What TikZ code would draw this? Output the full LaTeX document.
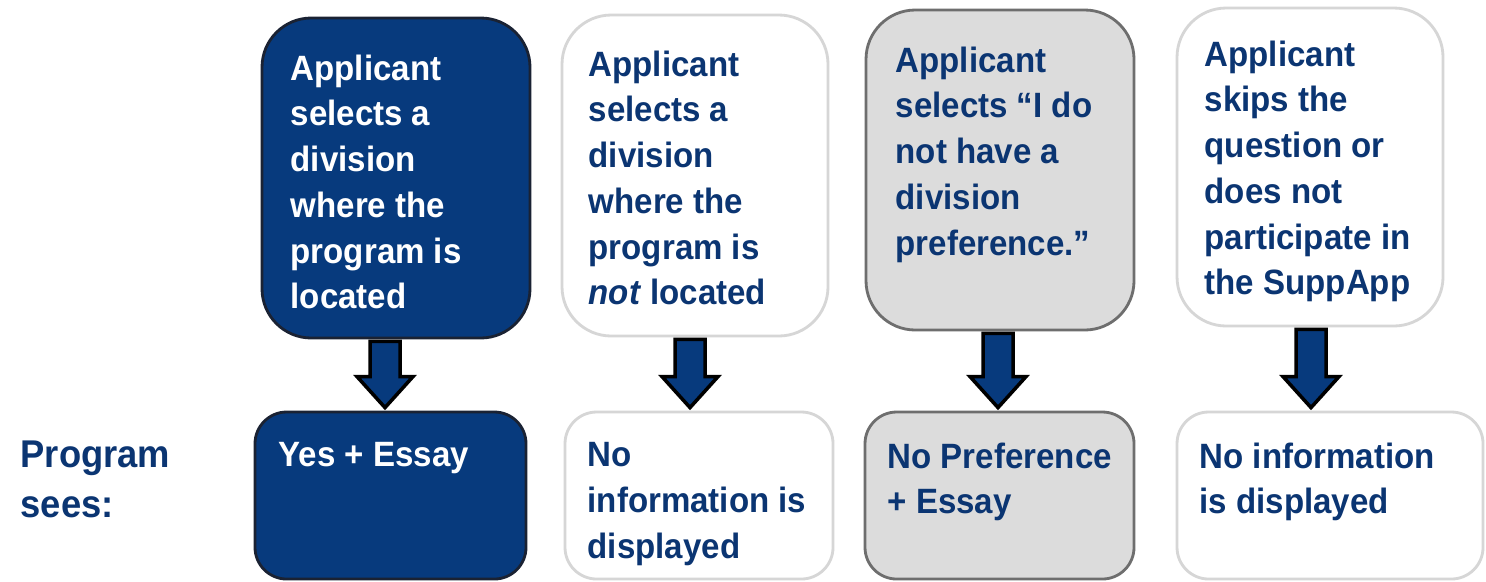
\documentclass[tikz,border=0pt]{standalone}
\usepackage{fontspec}
\setmainfont{Liberation Sans}[FakeStretch=0.94]
\usetikzlibrary{calc,fit}
\definecolor{navyfill}{HTML}{073A7D}
\definecolor{navytext}{HTML}{0B3572}
\definecolor{grayfill}{HTML}{DCDCDC}
\definecolor{grayedge}{HTML}{6E6E6E}
\definecolor{lightedge}{HTML}{D6D6D6}
\definecolor{darkedge}{HTML}{1A2233}
\tikzset{
  x=0.01cm, y=-0.01cm,
  boxbase/.style={rectangle, inner sep=0pt, line width=0.8pt},
  navybox/.style={boxbase, fill=navyfill, draw=darkedge},
  whitebox/.style={boxbase, fill=white, draw=lightedge},
  graybox/.style={boxbase, fill=grayfill, draw=grayedge},
  txt/.style={inner sep=0pt, anchor=north west, align=left,
    font=\fontsize{10}{13}\selectfont\bfseries, text=navytext},
  wtxt/.style={txt, text=white},
  barrow/.style={fill=navyfill, draw=black, line width=1pt, line join=miter}
}
\newcommand\blockarrow[3]{%
  \coordinate (ta) at ($(#1.south)+(#3,2)$);
  \coordinate (tb) at ($(#2.north)+(0,-3)$);
  \coordinate (tc) at (ta |- tb);
  \draw[barrow] ($(ta)+(-15,0)$) -- ($(tc)+(-15,-31)$) -- ($(tc)+(-28,-31)$)
    -- (tc) -- ($(tc)+(28,-31)$) -- ($(tc)+(15,-31)$) -- ($(ta)+(15,0)$) -- cycle;
}
\begin{document}
\begin{tikzpicture}
\useasboundingbox (0,0) rectangle (1486,581);
\fill[white] (0,0) rectangle (1486,581);
% top boxes
\node[navybox, rounded corners=14pt, fit={(262,18)(530,338)}] (t1) {};
\node[whitebox, rounded corners=14pt, fit={(562,15)(828,336)}] (t2) {};
\node[graybox, rounded corners=14pt, fit={(866,10)(1134,330)}] (t3) {};
\node[whitebox, rounded corners=14pt, fit={(1177,8)(1443,326)}] (t4) {};
% bottom boxes
\node[navybox, rounded corners=9pt, fit={(255,412)(526,579)}] (b1) {};
\node[whitebox, rounded corners=9pt, fit={(565,412)(833,579)}] (b2) {};
\node[graybox, rounded corners=9pt, fit={(865,412)(1134,579)}] (b3) {};
\node[whitebox, rounded corners=9pt, fit={(1177,412)(1483,579)}] (b4) {};
% texts
\node[wtxt] (x1) at (290,54) {Applicant\\selects a\\division\\where the\\program is\\located};
\node[txt] (x2) at (588,50) {Applicant\\selects a\\division\\where the\\program is\\\textit{not} located};
\node[txt] (x3) at (895,46) {Applicant\\selects “I do\\not have a\\division\\preference.”};
\node[txt] (x4) at (1204,40) {Applicant\\skips the\\question or\\does not\\participate in\\the SuppApp};
\node[wtxt] (y1) at (278,442) {Yes + Essay};
\node[txt] (y2) at (587,442) {No\\information is\\displayed};
\node[txt] (y3) at (887,442) {No Preference\\+ Essay};
\node[txt] (y4) at (1199,442) {No information\\is displayed};
\node[txt, font=\fontsize{11}{14.2}\selectfont\bfseries] (ps) at (20,440) {Program\\sees:};
% arrows
\blockarrow{t1}{b1}{-11}
\blockarrow{t2}{b2}{-5}
\blockarrow{t3}{b3}{-2}
\blockarrow{t4}{b4}{1}
\end{tikzpicture}
\end{document}
